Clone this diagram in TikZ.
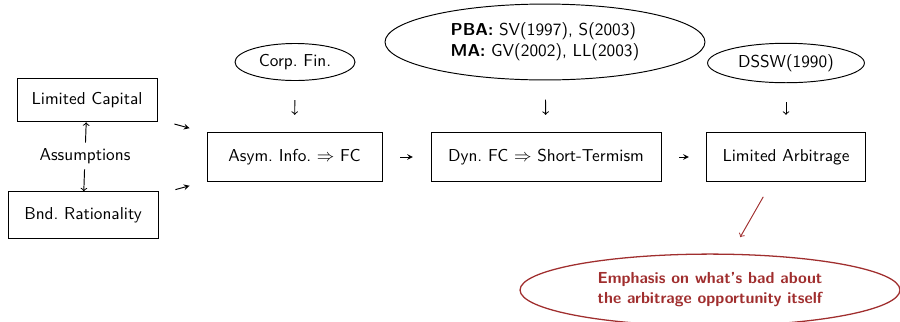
\documentclass[tikz,border=0pt]{standalone}
\usepackage{fontspec}
\usepackage{tikz}
\usetikzlibrary{shapes.geometric,arrows}
\renewcommand{\familydefault}{\sfdefault}
\definecolor{alertred}{RGB}{160,46,46}

\begin{document}
\begin{tikzpicture}[x=0.022cm,y=-0.022cm,semithick,
    every node/.style={font=\fontsize{10.8pt}{13pt}\selectfont},
    box/.style={draw,rectangle,minimum height=0.96cm},
    oval/.style={draw,ellipse,minimum height=0.66cm},
    link/.style={-stealth,shorten <=11pt,shorten >=11pt},
    feed/.style={->,shorten <=12pt,shorten >=11pt}]
  \useasboundingbox (0,0) rectangle (900,321);

  % assumptions on the left
  \node[box,minimum width=3.08cm] (cap) at (87,100) {Limited Capital};
  \node[box,minimum width=3.3cm,minimum height=1.02cm] (bnd) at (83,215) {Bnd.\ Rationality};
  \node (assum) at (85,156) {Assumptions};
  \draw[->] (assum) -- (cap);
  \draw[->] (assum) -- (bnd);

  % main chain
  \node[box,minimum width=3.85cm,minimum height=1.06cm] (asym) at (294.5,157) {Asym.\ Info.\ $\Rightarrow$ FC};
  \node[box,minimum width=5.06cm,minimum height=1.06cm] (dyn) at (546,157) {Dyn.\ FC $\Rightarrow$ Short-Termism};
  \node[box,minimum width=3.48cm,minimum height=1.06cm] (arb) at (786,157) {Limited Arbitrage};

  \draw[link] (cap) -- (asym);
  \draw[link] (bnd) -- (asym);
  \draw[link] (asym) -- (dyn);
  \draw[link] (dyn) -- (arb);

  % literature on top
  \node[oval,minimum width=2.64cm] (corp) at (295,62) {Corp.\ Fin.};
  \node[oval,minimum width=7.04cm,minimum height=1.67cm,align=left] (pba) at (545,42)
    {\textbf{PBA:} SV(1997), S(2003)\\ \textbf{MA:} GV(2002), LL(2003)};
  \node[oval,minimum width=3.45cm] (dssw) at (786,63) {DSSW(1990)};

  \draw[feed] (corp) -- (asym);
  \draw[feed] (pba) -- (dyn);
  \draw[feed] (dssw) -- (arb);

  %  emphasis
  \node[oval,draw=alertred,text=alertred,font=\fontsize{10pt}{12.5pt}\selectfont\bfseries,thick,minimum width=8.36cm,minimum height=1.58cm,align=center] (emph) at (710,290)
    {Emphasis on what's bad about\\ the arbitrage opportunity itself};
  \draw[alertred,->,shorten <=11pt,shorten >=12pt] (arb) -- (emph);
\end{tikzpicture}
\end{document}
